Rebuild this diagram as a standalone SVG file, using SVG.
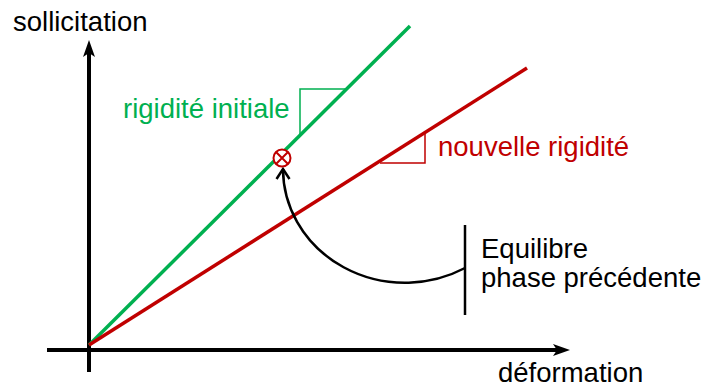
<svg xmlns="http://www.w3.org/2000/svg" width="708" height="390" viewBox="0 0 708 390">
<style>
  text { font-family: "Liberation Sans", Arial, sans-serif; font-size: 27.5px; }
  .axis { stroke: #000; stroke-width: 4; fill: none; }
  .green { stroke: #00B050; stroke-width: 3.5; fill: none; }
  .red { stroke: #C00000; stroke-width: 3.5; fill: none; }
  .tg { stroke: #00B050; stroke-width: 1.5; fill: none; }
  .tr { stroke: #C00000; stroke-width: 1.5; fill: none; }
  .black { stroke: #000; stroke-width: 2.5; fill: none; }
</style>
<defs>
  <marker id="axhead" viewBox="-18 -7 19 14" markerWidth="19" markerHeight="14" refX="-10" refY="0" orient="auto" markerUnits="userSpaceOnUse">
    <path d="M0,0 L-17,-6 L-13,0 L-17,6 Z" fill="#000"/>
  </marker>
  <marker id="open" viewBox="-12 -8 14 16" markerWidth="14" markerHeight="16" refX="0" refY="0" orient="auto" markerUnits="userSpaceOnUse">
    <path d="M-10,-6.5 L0,0 L-10,6.5" fill="none" stroke="#000" stroke-width="2.5"/>
  </marker>
</defs>
<g id="connectors">
  <line class="axis" x1="89" y1="372" x2="89" y2="50" marker-end="url(#axhead)"/>
  <line class="axis" x1="47" y1="350" x2="560" y2="350" marker-end="url(#axhead)"/>
  <line class="green" x1="89" y1="345" x2="410" y2="26"/>
  <line class="red" x1="89" y1="345" x2="527" y2="68"/>
  <path class="black" d="M465,268 A122,114 0 0 1 283,169" marker-end="url(#open)"/>
</g>
<g id="tri-green">
  <polyline class="tg" points="300,135 300,89 345,89"/>
</g>
<g id="tri-red">
  <polyline class="tr" points="380,163 425,163 425,133"/>
</g>
<g id="point">
  <circle cx="282" cy="158" r="8.5" fill="#fff" stroke="#C00000" stroke-width="2"/>
  <path d="M276,152 L288,164 M288,152 L276,164" stroke="#C00000" stroke-width="2"/>
</g>
<g id="bar">
  <line class="black" x1="465" y1="225" x2="465" y2="315"/>
</g>
<g id="labels">
  <text x="13" y="31" fill="#000">sollicitation</text>
  <text x="498" y="382" fill="#000">déformation</text>
  <text x="123" y="118" fill="#00B050">rigidité initiale</text>
  <text x="438" y="156" fill="#C00000">nouvelle rigidité</text>
  <text x="481" y="258" fill="#000">Equilibre</text>
  <text x="481" y="287" fill="#000">phase précédente</text>
</g>
</svg>
